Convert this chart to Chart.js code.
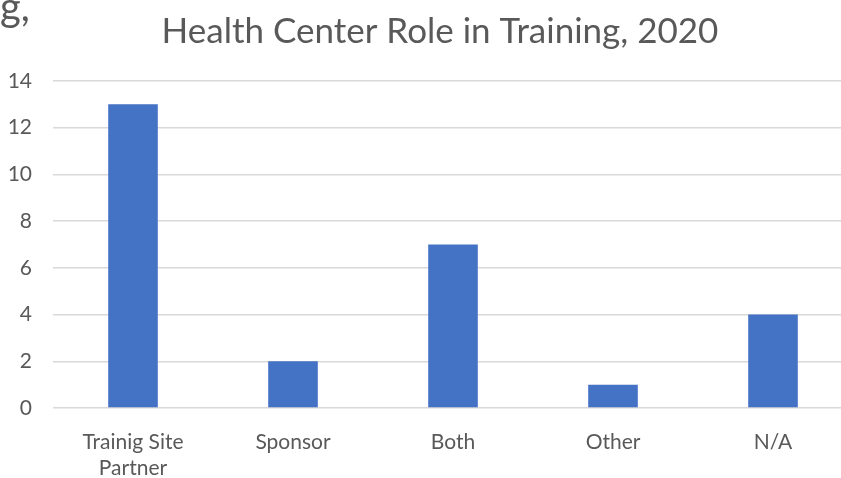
<!DOCTYPE html>
<html>
<head>
<meta charset="utf-8">
<script src="https://cdn.jsdelivr.net/npm/chart.js@4"></script>
<style>
  body { margin: 0; background: #fff; }
  #wrap { position: relative; width: 841px; height: 478px; overflow: hidden; }
  #cut { position: absolute; left: 0px; top: -18px; font: 40px Lato, sans-serif; color: #595959; }
</style>
</head>
<body>
<div id="wrap">
  <canvas id="roleChart" width="880" height="478"></canvas>
  <div id="cut">g,</div>
</div>
<script>
// data
const categories = [["Trainig Site", "Partner"], "Sponsor", "Both", "Other", "N/A"];
const counts = [13, 2, 7, 1, 4];
const yTicks = [0, 2, 4, 6, 8, 10, 12, 14];

const txt = '#595959';
const fam = 'Lato, sans-serif';

// the picture is a crop of a wider chart, so the canvas runs past the right edge
new Chart(document.getElementById('roleChart').getContext('2d'), {
  type: 'bar',
  data: {
    labels: categories,
    datasets: [{
      data: counts,
      backgroundColor: '#4472C4',
      barPercentage: 0.31,
      categoryPercentage: 1
    }]
  },
  options: {
    responsive: false,
    animation: false,
    layout: { padding: { top: 11, right: 0, left: 0, bottom: 0 } },
    plugins: {
      legend: { display: false },
      tooltip: { enabled: false },
      title: {
        display: true,
        text: 'Health Center Role in Training, 2020',
        color: txt,
        font: { family: fam, size: 35, weight: 'normal', lineHeight: 1.2 },
        padding: { top: 0, bottom: 28 }
      }
    },
    scales: {
      x: {
        grid: { display: false },
        border: { display: false },
        ticks: { color: txt, font: { family: fam, size: 21, lineHeight: 1.25 }, padding: 13, maxRotation: 0 },
        afterFit: s => { s.height = 70; }
      },
      y: {
        min: 0,
        max: 14,
        afterBuildTicks: s => { s.ticks = yTicks.map(v => ({ value: v })); },
        grid: { color: '#d9d9d9', lineWidth: 1.5, drawTicks: false },
        border: { display: false },
        ticks: { color: txt, font: { family: fam, size: 21 }, padding: 21 },
        afterFit: s => { s.width = 53; }
      },
      // empty strip on the right so the title centres on the whole chart
      yRight: {
        position: 'right',
        grid: { display: false },
        border: { display: false },
        ticks: { display: false },
        afterFit: s => { s.width = 27; }
      }
    }
  }
});
</script>
</body>
</html>
